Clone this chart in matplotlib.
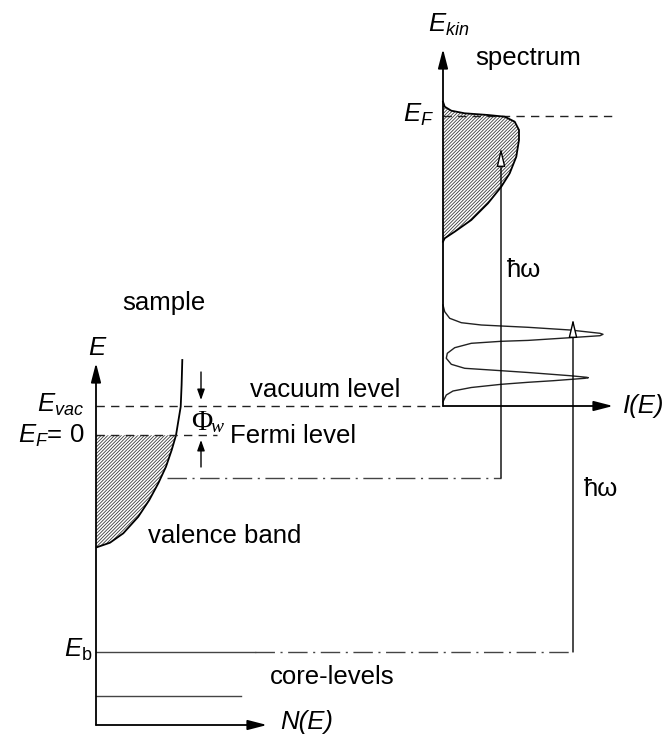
import numpy as np
import matplotlib.pyplot as plt

plt.rcParams['font.family'] = ['Liberation Sans', 'DejaVu Sans']
plt.rcParams['mathtext.fontset'] = 'custom'
plt.rcParams['mathtext.rm'] = 'Liberation Sans'
plt.rcParams['mathtext.it'] = 'Liberation Sans:italic'
plt.rcParams['hatch.linewidth'] = 0.6

# energy levels (picture units, y grows downward)
e_vac = 406
e_fermi = 435
e_final = 478
e_b = 652
e_core2 = 696
ekin_fermi = 116

# sample valence band (N(E) vs E), bottom to top
vb_x = [96.7, 110, 123.3, 138.3, 149.3, 158.3, 166, 171.7, 176, 178.5, 180.7, 181.6, 182.3]
vb_y = [547.3, 542.7, 533.3, 516.7, 500, 483.3, 466.7, 450, 435.3, 420, 406.7, 385, 360]

# spectrum: valence part, top to bottom
spec_vb_x = [443, 444.7, 451.3, 464.7, 488, 504.7, 514.7, 519, 519, 516.3, 509.7, 501.3,
             488, 471.3, 454.7, 444.7, 443]
spec_vb_y = [101.7, 106.7, 110.7, 113.3, 115, 116.7, 121.7, 130, 140, 156.7, 173.3, 186.7,
             203.3, 220, 231.7, 238.3, 241.7]

# spectrum: core-level peaks, top to bottom
spec_core_x = [443, 444.7, 449.7, 461.3, 481.3, 501.3, 528, 570, 600, 603, 600, 570, 528,
               501.3, 471.3, 454.7, 447.3, 446.3, 451.3, 464.7, 501.3, 528, 570, 586.7,
               588.3, 585, 553.3, 528, 501.3, 471.3, 453, 446.3, 443]
spec_core_y = [305, 311.7, 318.3, 322.7, 325, 326, 327.3, 330, 333.3, 334.3, 335.7, 337.7, 340.4,
               341.3, 343.3, 347.7, 353.3, 358.3, 364.3, 368.3, 370.7, 372.5, 375.7, 377.3,
               377.7, 378.3, 380.7, 382.3, 384.3, 387.5, 391, 395, 401.7]

fig = plt.figure(figsize=(6.69, 7.35), dpi=100)
ax = fig.add_axes([0, 0, 1, 1])
ax.set_xlim(0, 669)
ax.set_ylim(735, 0)
ax.axis('off')

LW = 1.0
AX_LW = 1.3
dash = (0, (6, 4.5))
dashdot = (0, (14, 4, 1.5, 4))


def arrow(x0, y0, x1, y1, open_head=False, small=False):
    lw = AX_LW
    if small:
        style = '-|>,head_length=0.45,head_width=0.16'
        ms = 14
        lw = LW
    elif open_head:
        style = '-|>,head_length=0.55,head_width=0.13'
        ms = 20
        lw = LW
    else:
        style = '-|>,head_length=0.58,head_width=0.15'
        ms = 20
    ax.annotate('', xy=(x1, y1), xytext=(x0, y0),
                arrowprops=dict(arrowstyle=style, mutation_scale=ms, lw=lw,
                                ec='k', fc='white' if open_head else 'k',
                                shrinkA=0, shrinkB=0))


# --- hatched fills
fill_x = [96] + vb_x[:9] + [96]
fill_y = [vb_y[0]] + vb_y[:9] + [vb_y[8]]
ax.fill(fill_x, fill_y, facecolor='white', edgecolor='#3a3a3a', hatch='//////////', lw=0)
ax.fill(spec_vb_x, spec_vb_y, facecolor='white', edgecolor='#3a3a3a', hatch='//////////', lw=0)

# --- sample side
ax.plot(vb_x, vb_y, color='k', lw=AX_LW)
arrow(96, 725, 96, 363)
arrow(96, 725, 267, 725)
ax.plot([96, 443], [e_vac, e_vac], color='#222222', lw=LW, ls=dash)
ax.plot([96, 217], [e_fermi, e_fermi], color='#222222', lw=LW, ls=dash)
ax.plot([96, 255], [e_b, e_b], color='#444444', lw=LW)
ax.plot([255, 573], [e_b, e_b], color='#444444', lw=LW, ls=dashdot)
ax.plot([96, 241], [e_core2, e_core2], color='#444444', lw=LW)
ax.plot([167, 501], [e_final, e_final], color='#444444', lw=LW, ls=dashdot)

# work function arrows
arrow(201, 372, 201, 400, small=True)
arrow(201, 467, 201, 440, small=True)

# --- spectrum side
ax.plot([443, 617], [ekin_fermi, ekin_fermi], color='#222222', lw=LW, ls=dash)
arrow(443, e_vac, 443, 49)
arrow(443, e_vac, 613, e_vac)
ax.plot(spec_vb_x, spec_vb_y, color='k', lw=AX_LW)
ax.plot(spec_core_x, spec_core_y, color='#222222', lw=LW)

# photon arrows
arrow(501, e_final, 501, 148, open_head=True)
arrow(573, e_b, 573, 319, open_head=True)

# --- text
fs = 18.5
ax.text(428, 32, r'$E_{kin}$', fontsize=fs, va='baseline', ha='left')
ax.text(475, 65, 'spectrum', fontsize=fs, va='baseline', ha='left')
ax.text(403, 122, r'$E_F$', fontsize=fs, va='baseline', ha='left')
ax.text(507, 277, 'ħω', fontsize=fs, va='baseline', ha='left')
ax.text(122, 310, 'sample', fontsize=fs, va='baseline', ha='left')
ax.text(88, 355, r'$E$', fontsize=fs, va='baseline', ha='left')
ax.text(84, 412, r'$E_{vac}$', fontsize=fs, va='baseline', ha='right')
ax.text(84, 443, r'$E_F$= 0', fontsize=fs, va='baseline', ha='right')
ax.text(250, 397, 'vacuum level', fontsize=fs, va='baseline', ha='left')
ax.text(230, 443, 'Fermi level', fontsize=fs, va='baseline', ha='left')
ax.text(623, 413, 'I(E)', fontsize=fs, va='baseline', ha='left', fontstyle='italic')
ax.text(191, 430, 'Φ', fontsize=21, va='baseline', ha='left', family='Liberation Serif')
ax.text(211, 432, 'w', fontsize=14, va='baseline', ha='left', family='Liberation Serif',
        fontstyle='italic')
ax.text(148, 543, 'valence band', fontsize=fs, va='baseline', ha='left')
ax.text(584, 496, 'ħω', fontsize=fs, va='baseline', ha='left')
ax.text(92, 657, r'$E_\mathrm{b}$', fontsize=fs, va='baseline', ha='right')
ax.text(270, 684, 'core-levels', fontsize=fs, va='baseline', ha='left')
ax.text(280, 729, 'N(E)', fontsize=fs, va='baseline', ha='left', fontstyle='italic')

fig.savefig('out.png', dpi=100)
